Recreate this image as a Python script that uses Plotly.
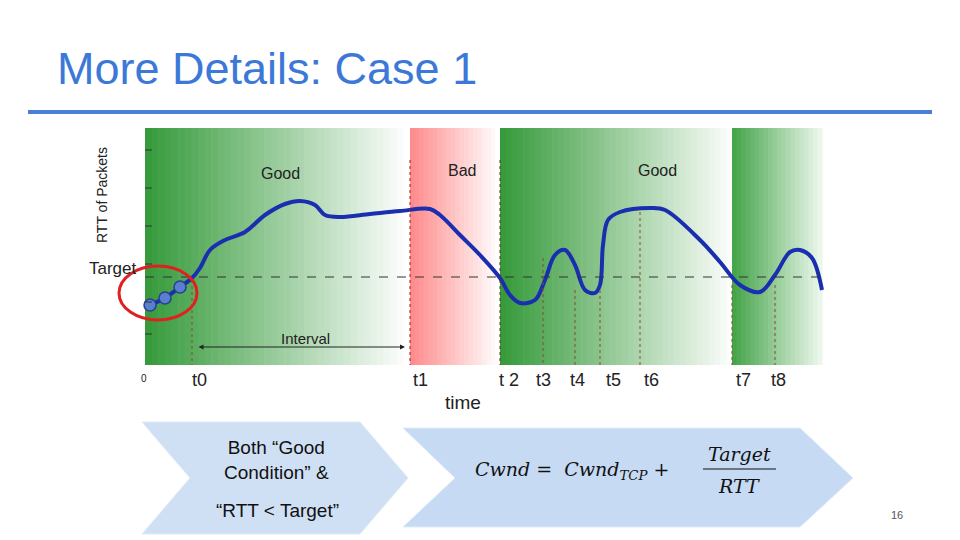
import plotly.graph_objects as go

# curve (pixel-space reading of RTT vs time)
curve_x = [150,165,180,192,200,210,225,245,265,285,300,315,325,340,370,400,430,440,460,480,500,510,520,535,545,555,565,575,585,595,600,603,608,620,650,665,700,720,740,760,775,790,800,812,822]
curve_y = [305,298,287,278,268,250,240,232,215,204,201,205,215,217,214,211,209,215,235,255,278,295,303,300,280,255,250,265,290,293,285,245,220,212,208,210,240,262,285,292,275,252,250,258,290]
dots_x = [150,165,180]
dots_y = [305,298,287]
t_labels = ["t0","t1","t 2","t3","t4","t5","t6","t7","t8"]
t_pos = [192,410,500,543,575,600,640,732,775]
t_top = [280,160,160,258,290,290,212,285,285]
t_lab_x = [199,420,509,543,577,613,651,743,778]

shapes = []
def grad(x0, x1, c0, c1, n=40):
    w = (x1-x0)/n
    for i in range(n):
        f = i/(n-1)
        c = tuple(int(c0[k]+(c1[k]-c0[k])*f) for k in range(3))
        shapes.append(dict(type="rect", xref="x", yref="y", x0=x0+i*w, x1=x0+(i+1)*w+0.6,
                           y0=128, y1=365, fillcolor="rgb(%d,%d,%d)" % c, line_width=0, layer="below"))
grad(145, 410, (55,155,60), (255,255,255))
grad(410, 500, (255,140,140), (255,255,255), 20)
grad(500, 732, (55,155,60), (250,253,250))
grad(732, 822, (70,165,75), (235,247,235), 20)

shapes.append(dict(type="line", x0=28, x1=932, y0=112, y1=112, line=dict(color="#4a7fd6", width=4)))
shapes.append(dict(type="line", x0=145, x1=822, y0=277, y1=277, line=dict(color="#333", width=1, dash="dash")))
for x, top in zip(t_pos, t_top):
    col = "#8b2020" if x in (410, 500) else "#8b4a2a"
    shapes.append(dict(type="line", x0=x, x1=x, y0=top, y1=365, line=dict(color=col, width=1, dash="dot")))
for yy in [150,188,226,264,302,334]:
    shapes.append(dict(type="line", x0=145, x1=152, y0=yy, y1=yy, line=dict(color="#333", width=1)))
shapes.append(dict(type="circle", x0=119, x1=197, y0=266, y1=320, line=dict(color="#e02020", width=3)))
shapes.append(dict(type="path", path="M142,422 L360,422 L408,478 L360,534 L142,534 L190,478 Z",
                   fillcolor="#cfe0f5", line=dict(color="#e0ebf8", width=1)))
shapes.append(dict(type="path", path="M403,428 L800,428 L853,478 L800,527 L403,527 L455,478 Z",
                   fillcolor="#c6daf3", line=dict(color="#e0ebf8", width=1)))

fig = go.Figure()
fig.add_trace(go.Scatter(x=curve_x, y=curve_y, mode="lines", line=dict(color="#1a2fb0", width=4, shape="spline")))
fig.add_trace(go.Scatter(x=dots_x, y=dots_y, mode="markers",
                         marker=dict(size=12, color="#5a7fd0", line=dict(color="#2a3f90", width=1.5))))

ann = []
def t(x, y, s, size=16, color="#222", **kw):
    ann.append(dict(x=x, y=y, text=s, showarrow=False, font=dict(size=size, color=color, family=kw.pop("family","Liberation Sans")), **kw))
t(55, 68, "More Details: Case 1", 45, "#3c78d8", xanchor="left")
t(280, 173, "Good"); t(462, 170, "Bad"); t(657, 170, "Good")
t(305, 338, "Interval", 15)
t(102, 195, "RTT of Packets", 14, textangle=-90)
t(113, 268, "Target", 17)
t(144, 378, "0", 10)
for x, s in zip(t_lab_x, t_labels):
    t(x, 380, s, 18)
t(463, 402, "time", 19)
t(276, 460, "Both “Good<br>Condition” &", 19, "#111", family="Liberation Sans")
t(277, 510, "“RTT < Target”", 19, "#111")
t(572, 470, "<i>Cwnd</i> =  <i>Cwnd<sub>TCP</sub></i> +", 19, "#111", family="DejaVu Serif")
t(739, 454, "<i>Target</i>", 19, "#111", family="DejaVu Serif")
t(739, 486, "<i>RTT</i>", 19, "#111", family="DejaVu Serif")
t(897, 515, "16", 11, "#555")
ann.append(dict(x=405, y=347, ax=197, ay=347, xref="x", yref="y", axref="x", ayref="y", text="",
                showarrow=True, arrowhead=2, arrowside="end+start", arrowwidth=1, arrowcolor="#222"))
shapes.append(dict(type="line", x0=703, x1=776, y0=469, y1=469, line=dict(color="#111", width=1)))

fig.update_layout(width=960, height=540, margin=dict(l=0, r=0, t=0, b=0), showlegend=False,
                  paper_bgcolor="white", plot_bgcolor="white", shapes=shapes, annotations=ann,
                  xaxis=dict(range=[8, 968], visible=False), yaxis=dict(range=[548, 8], visible=False))
fig.write_html("out.html")
